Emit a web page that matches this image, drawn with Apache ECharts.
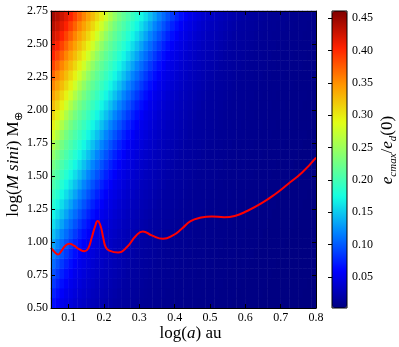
<!DOCTYPE html>
<html>
<head>
<meta charset="utf-8">
<script src="https://cdn.jsdelivr.net/npm/echarts@6/dist/echarts.min.js"></script>
<style>
  html, body { margin: 0; padding: 0; background: #fff; }
  #chart { width: 399px; height: 347px; }
</style>
</head>
<body>
<div id="chart"></div>
<script>
// centres of the colour-map cells: 60 columns of log(a), 30 rows of log(M sini)
var xCells = [];
var yCells = [];
for (var i = 0; i < 60; i++) xCells.push((0.05625 + 0.0125 * i).toFixed(5));
for (var j = 0; j < 30; j++) yCells.push((0.5375 + 0.075 * j).toFixed(4));

// e_cmax / e_d(0), one row per yCells entry (bottom to top)
var eGrid = [
  [0.065,0.057,0.051,0.047,0.043,0.039,0.036,0.033,0.030,0.028,0.026,0.024,0.022,0.020,0.018,0.017,0.016,0.015,0.014,0.013,0.012,0.011,0.011,0.010,0.010,0.009,0.009,0.008,0.008,0.008,0.007,0.007,0.007,0.006,0.006,0.006,0.006,0.005,0.005,0.005,0.005,0.004,0.004,0.004,0.004,0.004,0.004,0.003,0.003,0.003,0.003,0.003,0.003,0.003,0.003,0.003,0.002,0.002,0.002,0.002],
  [0.074,0.065,0.057,0.051,0.047,0.043,0.039,0.036,0.033,0.030,0.028,0.026,0.024,0.022,0.020,0.018,0.017,0.016,0.015,0.014,0.013,0.012,0.011,0.011,0.010,0.010,0.009,0.009,0.008,0.008,0.008,0.007,0.007,0.007,0.006,0.006,0.006,0.006,0.005,0.005,0.005,0.005,0.004,0.004,0.004,0.004,0.004,0.004,0.003,0.003,0.003,0.003,0.003,0.003,0.003,0.003,0.003,0.002,0.002,0.002],
  [0.085,0.074,0.065,0.057,0.051,0.047,0.043,0.039,0.036,0.033,0.030,0.028,0.026,0.024,0.022,0.020,0.018,0.017,0.016,0.015,0.014,0.013,0.012,0.011,0.011,0.010,0.010,0.009,0.009,0.008,0.008,0.008,0.007,0.007,0.007,0.006,0.006,0.006,0.006,0.005,0.005,0.005,0.005,0.004,0.004,0.004,0.004,0.004,0.004,0.003,0.003,0.003,0.003,0.003,0.003,0.003,0.003,0.003,0.002,0.002],
  [0.096,0.085,0.074,0.065,0.057,0.051,0.047,0.043,0.039,0.036,0.033,0.030,0.028,0.026,0.024,0.022,0.020,0.018,0.017,0.016,0.015,0.014,0.013,0.012,0.011,0.011,0.010,0.010,0.009,0.009,0.008,0.008,0.008,0.007,0.007,0.007,0.006,0.006,0.006,0.006,0.005,0.005,0.005,0.005,0.004,0.004,0.004,0.004,0.004,0.004,0.003,0.003,0.003,0.003,0.003,0.003,0.003,0.003,0.003,0.002],
  [0.108,0.096,0.085,0.074,0.065,0.057,0.051,0.047,0.043,0.039,0.036,0.033,0.030,0.028,0.026,0.024,0.022,0.020,0.018,0.017,0.016,0.015,0.014,0.013,0.012,0.011,0.011,0.010,0.010,0.009,0.009,0.008,0.008,0.008,0.007,0.007,0.007,0.006,0.006,0.006,0.006,0.005,0.005,0.005,0.005,0.004,0.004,0.004,0.004,0.004,0.004,0.003,0.003,0.003,0.003,0.003,0.003,0.003,0.003,0.003],
  [0.119,0.108,0.096,0.085,0.074,0.065,0.057,0.051,0.047,0.043,0.039,0.036,0.033,0.030,0.028,0.026,0.024,0.022,0.020,0.018,0.017,0.016,0.015,0.014,0.013,0.012,0.011,0.011,0.010,0.010,0.009,0.009,0.008,0.008,0.008,0.007,0.007,0.007,0.006,0.006,0.006,0.006,0.005,0.005,0.005,0.005,0.004,0.004,0.004,0.004,0.004,0.004,0.003,0.003,0.003,0.003,0.003,0.003,0.003,0.003],
  [0.133,0.119,0.108,0.096,0.085,0.074,0.065,0.057,0.051,0.047,0.043,0.039,0.036,0.033,0.030,0.028,0.026,0.024,0.022,0.020,0.018,0.017,0.016,0.015,0.014,0.013,0.012,0.011,0.011,0.010,0.010,0.009,0.009,0.008,0.008,0.008,0.007,0.007,0.007,0.006,0.006,0.006,0.006,0.005,0.005,0.005,0.005,0.004,0.004,0.004,0.004,0.004,0.004,0.003,0.003,0.003,0.003,0.003,0.003,0.003],
  [0.146,0.133,0.119,0.108,0.096,0.085,0.074,0.065,0.057,0.051,0.047,0.043,0.039,0.036,0.033,0.030,0.028,0.026,0.024,0.022,0.020,0.018,0.017,0.016,0.015,0.014,0.013,0.012,0.011,0.011,0.010,0.010,0.009,0.009,0.008,0.008,0.008,0.007,0.007,0.007,0.006,0.006,0.006,0.006,0.005,0.005,0.005,0.005,0.004,0.004,0.004,0.004,0.004,0.004,0.003,0.003,0.003,0.003,0.003,0.003],
  [0.159,0.146,0.133,0.119,0.108,0.096,0.085,0.074,0.065,0.057,0.051,0.047,0.043,0.039,0.036,0.033,0.030,0.028,0.026,0.024,0.022,0.020,0.018,0.017,0.016,0.015,0.014,0.013,0.012,0.011,0.011,0.010,0.010,0.009,0.009,0.008,0.008,0.008,0.007,0.007,0.007,0.006,0.006,0.006,0.006,0.005,0.005,0.005,0.005,0.004,0.004,0.004,0.004,0.004,0.004,0.003,0.003,0.003,0.003,0.003],
  [0.171,0.159,0.146,0.133,0.119,0.108,0.096,0.085,0.074,0.065,0.057,0.051,0.047,0.043,0.039,0.036,0.033,0.030,0.028,0.026,0.024,0.022,0.020,0.018,0.017,0.016,0.015,0.014,0.013,0.012,0.011,0.011,0.010,0.010,0.009,0.009,0.008,0.008,0.008,0.007,0.007,0.007,0.006,0.006,0.006,0.006,0.005,0.005,0.005,0.005,0.004,0.004,0.004,0.004,0.004,0.004,0.003,0.003,0.003,0.003],
  [0.183,0.171,0.159,0.146,0.133,0.119,0.108,0.096,0.085,0.074,0.065,0.057,0.051,0.047,0.043,0.039,0.036,0.033,0.030,0.028,0.026,0.024,0.022,0.020,0.018,0.017,0.016,0.015,0.014,0.013,0.012,0.011,0.011,0.010,0.010,0.009,0.009,0.008,0.008,0.008,0.007,0.007,0.007,0.006,0.006,0.006,0.006,0.005,0.005,0.005,0.005,0.004,0.004,0.004,0.004,0.004,0.004,0.003,0.003,0.003],
  [0.194,0.183,0.171,0.159,0.146,0.133,0.119,0.108,0.096,0.085,0.074,0.065,0.057,0.051,0.047,0.043,0.039,0.036,0.033,0.030,0.028,0.026,0.024,0.022,0.020,0.018,0.017,0.016,0.015,0.014,0.013,0.012,0.011,0.011,0.010,0.010,0.009,0.009,0.008,0.008,0.008,0.007,0.007,0.007,0.006,0.006,0.006,0.006,0.005,0.005,0.005,0.005,0.004,0.004,0.004,0.004,0.004,0.004,0.003,0.003],
  [0.205,0.194,0.183,0.171,0.159,0.146,0.133,0.119,0.108,0.096,0.085,0.074,0.065,0.057,0.051,0.047,0.043,0.039,0.036,0.033,0.030,0.028,0.026,0.024,0.022,0.020,0.018,0.017,0.016,0.015,0.014,0.013,0.012,0.011,0.011,0.010,0.010,0.009,0.009,0.008,0.008,0.008,0.007,0.007,0.007,0.006,0.006,0.006,0.006,0.005,0.005,0.005,0.005,0.004,0.004,0.004,0.004,0.004,0.004,0.003],
  [0.216,0.205,0.194,0.183,0.171,0.159,0.146,0.133,0.119,0.108,0.096,0.085,0.074,0.065,0.057,0.051,0.047,0.043,0.039,0.036,0.033,0.030,0.028,0.026,0.024,0.022,0.020,0.018,0.017,0.016,0.015,0.014,0.013,0.012,0.011,0.011,0.010,0.010,0.009,0.009,0.008,0.008,0.008,0.007,0.007,0.007,0.006,0.006,0.006,0.006,0.005,0.005,0.005,0.005,0.004,0.004,0.004,0.004,0.004,0.004],
  [0.228,0.216,0.205,0.194,0.183,0.171,0.159,0.146,0.133,0.119,0.108,0.096,0.085,0.074,0.065,0.057,0.051,0.047,0.043,0.039,0.036,0.033,0.030,0.028,0.026,0.024,0.022,0.020,0.018,0.017,0.016,0.015,0.014,0.013,0.012,0.011,0.011,0.010,0.010,0.009,0.009,0.008,0.008,0.008,0.007,0.007,0.007,0.006,0.006,0.006,0.006,0.005,0.005,0.005,0.005,0.004,0.004,0.004,0.004,0.004],
  [0.243,0.228,0.216,0.205,0.194,0.183,0.171,0.159,0.146,0.133,0.119,0.108,0.096,0.085,0.074,0.065,0.057,0.051,0.047,0.043,0.039,0.036,0.033,0.030,0.028,0.026,0.024,0.022,0.020,0.018,0.017,0.016,0.015,0.014,0.013,0.012,0.011,0.011,0.010,0.010,0.009,0.009,0.008,0.008,0.008,0.007,0.007,0.007,0.006,0.006,0.006,0.006,0.005,0.005,0.005,0.005,0.004,0.004,0.004,0.004],
  [0.260,0.243,0.228,0.216,0.205,0.194,0.183,0.171,0.159,0.146,0.133,0.119,0.108,0.096,0.085,0.074,0.065,0.057,0.051,0.047,0.043,0.039,0.036,0.033,0.030,0.028,0.026,0.024,0.022,0.020,0.018,0.017,0.016,0.015,0.014,0.013,0.012,0.011,0.011,0.010,0.010,0.009,0.009,0.008,0.008,0.008,0.007,0.007,0.007,0.006,0.006,0.006,0.006,0.005,0.005,0.005,0.005,0.004,0.004,0.004],
  [0.278,0.260,0.243,0.228,0.216,0.205,0.194,0.183,0.171,0.159,0.146,0.133,0.119,0.108,0.096,0.085,0.074,0.065,0.057,0.051,0.047,0.043,0.039,0.036,0.033,0.030,0.028,0.026,0.024,0.022,0.020,0.018,0.017,0.016,0.015,0.014,0.013,0.012,0.011,0.011,0.010,0.010,0.009,0.009,0.008,0.008,0.008,0.007,0.007,0.007,0.006,0.006,0.006,0.006,0.005,0.005,0.005,0.005,0.004,0.004],
  [0.296,0.278,0.260,0.243,0.228,0.216,0.205,0.194,0.183,0.171,0.159,0.146,0.133,0.119,0.108,0.096,0.085,0.074,0.065,0.057,0.051,0.047,0.043,0.039,0.036,0.033,0.030,0.028,0.026,0.024,0.022,0.020,0.018,0.017,0.016,0.015,0.014,0.013,0.012,0.011,0.011,0.010,0.010,0.009,0.009,0.008,0.008,0.008,0.007,0.007,0.007,0.006,0.006,0.006,0.006,0.005,0.005,0.005,0.005,0.004],
  [0.311,0.296,0.278,0.260,0.243,0.228,0.216,0.205,0.194,0.183,0.171,0.159,0.146,0.133,0.119,0.108,0.096,0.085,0.074,0.065,0.057,0.051,0.047,0.043,0.039,0.036,0.033,0.030,0.028,0.026,0.024,0.022,0.020,0.018,0.017,0.016,0.015,0.014,0.013,0.012,0.011,0.011,0.010,0.010,0.009,0.009,0.008,0.008,0.008,0.007,0.007,0.007,0.006,0.006,0.006,0.006,0.005,0.005,0.005,0.005],
  [0.326,0.311,0.296,0.278,0.260,0.243,0.228,0.216,0.205,0.194,0.183,0.171,0.159,0.146,0.133,0.119,0.108,0.096,0.085,0.074,0.065,0.057,0.051,0.047,0.043,0.039,0.036,0.033,0.030,0.028,0.026,0.024,0.022,0.020,0.018,0.017,0.016,0.015,0.014,0.013,0.012,0.011,0.011,0.010,0.010,0.009,0.009,0.008,0.008,0.008,0.007,0.007,0.007,0.006,0.006,0.006,0.006,0.005,0.005,0.005],
  [0.340,0.326,0.311,0.296,0.278,0.260,0.243,0.228,0.216,0.205,0.194,0.183,0.171,0.159,0.146,0.133,0.119,0.108,0.096,0.085,0.074,0.065,0.057,0.051,0.047,0.043,0.039,0.036,0.033,0.030,0.028,0.026,0.024,0.022,0.020,0.018,0.017,0.016,0.015,0.014,0.013,0.012,0.011,0.011,0.010,0.010,0.009,0.009,0.008,0.008,0.008,0.007,0.007,0.007,0.006,0.006,0.006,0.006,0.005,0.005],
  [0.355,0.340,0.326,0.311,0.296,0.278,0.260,0.243,0.228,0.216,0.205,0.194,0.183,0.171,0.159,0.146,0.133,0.119,0.108,0.096,0.085,0.074,0.065,0.057,0.051,0.047,0.043,0.039,0.036,0.033,0.030,0.028,0.026,0.024,0.022,0.020,0.018,0.017,0.016,0.015,0.014,0.013,0.012,0.011,0.011,0.010,0.010,0.009,0.009,0.008,0.008,0.008,0.007,0.007,0.007,0.006,0.006,0.006,0.006,0.005],
  [0.372,0.355,0.340,0.326,0.311,0.296,0.278,0.260,0.243,0.228,0.216,0.205,0.194,0.183,0.171,0.159,0.146,0.133,0.119,0.108,0.096,0.085,0.074,0.065,0.057,0.051,0.047,0.043,0.039,0.036,0.033,0.030,0.028,0.026,0.024,0.022,0.020,0.018,0.017,0.016,0.015,0.014,0.013,0.012,0.011,0.011,0.010,0.010,0.009,0.009,0.008,0.008,0.008,0.007,0.007,0.007,0.006,0.006,0.006,0.006],
  [0.388,0.372,0.355,0.340,0.326,0.311,0.296,0.278,0.260,0.243,0.228,0.216,0.205,0.194,0.183,0.171,0.159,0.146,0.133,0.119,0.108,0.096,0.085,0.074,0.065,0.057,0.051,0.047,0.043,0.039,0.036,0.033,0.030,0.028,0.026,0.024,0.022,0.020,0.018,0.017,0.016,0.015,0.014,0.013,0.012,0.011,0.011,0.010,0.010,0.009,0.009,0.008,0.008,0.008,0.007,0.007,0.007,0.006,0.006,0.006],
  [0.404,0.388,0.372,0.355,0.340,0.326,0.311,0.296,0.278,0.260,0.243,0.228,0.216,0.205,0.194,0.183,0.171,0.159,0.146,0.133,0.119,0.108,0.096,0.085,0.074,0.065,0.057,0.051,0.047,0.043,0.039,0.036,0.033,0.030,0.028,0.026,0.024,0.022,0.020,0.018,0.017,0.016,0.015,0.014,0.013,0.012,0.011,0.011,0.010,0.010,0.009,0.009,0.008,0.008,0.008,0.007,0.007,0.007,0.006,0.006],
  [0.416,0.404,0.388,0.372,0.355,0.340,0.326,0.311,0.296,0.278,0.260,0.243,0.228,0.216,0.205,0.194,0.183,0.171,0.159,0.146,0.133,0.119,0.108,0.096,0.085,0.074,0.065,0.057,0.051,0.047,0.043,0.039,0.036,0.033,0.030,0.028,0.026,0.024,0.022,0.020,0.018,0.017,0.016,0.015,0.014,0.013,0.012,0.011,0.011,0.010,0.010,0.009,0.009,0.008,0.008,0.008,0.007,0.007,0.007,0.006],
  [0.426,0.416,0.404,0.388,0.372,0.355,0.340,0.326,0.311,0.296,0.278,0.260,0.243,0.228,0.216,0.205,0.194,0.183,0.171,0.159,0.146,0.133,0.119,0.108,0.096,0.085,0.074,0.065,0.057,0.051,0.047,0.043,0.039,0.036,0.033,0.030,0.028,0.026,0.024,0.022,0.020,0.018,0.017,0.016,0.015,0.014,0.013,0.012,0.011,0.011,0.010,0.010,0.009,0.009,0.008,0.008,0.008,0.007,0.007,0.007],
  [0.436,0.426,0.416,0.404,0.388,0.372,0.355,0.340,0.326,0.311,0.296,0.278,0.260,0.243,0.228,0.216,0.205,0.194,0.183,0.171,0.159,0.146,0.133,0.119,0.108,0.096,0.085,0.074,0.065,0.057,0.051,0.047,0.043,0.039,0.036,0.033,0.030,0.028,0.026,0.024,0.022,0.020,0.018,0.017,0.016,0.015,0.014,0.013,0.012,0.011,0.011,0.010,0.010,0.009,0.009,0.008,0.008,0.008,0.007,0.007],
  [0.445,0.436,0.426,0.416,0.404,0.388,0.372,0.355,0.340,0.326,0.311,0.296,0.278,0.260,0.243,0.228,0.216,0.205,0.194,0.183,0.171,0.159,0.146,0.133,0.119,0.108,0.096,0.085,0.074,0.065,0.057,0.051,0.047,0.043,0.039,0.036,0.033,0.030,0.028,0.026,0.024,0.022,0.020,0.018,0.017,0.016,0.015,0.014,0.013,0.012,0.011,0.011,0.010,0.010,0.009,0.009,0.008,0.008,0.008,0.007]
];

// red curve
var curveA = [0.050, 0.060, 0.070, 0.080, 0.090, 0.102, 0.115, 0.130, 0.145, 0.155,
  0.165, 0.175, 0.182, 0.190, 0.198, 0.205, 0.215, 0.240, 0.265, 0.290,
  0.310, 0.335, 0.367, 0.395, 0.420, 0.445, 0.475, 0.505, 0.540, 0.570,
  0.605, 0.645, 0.685, 0.720, 0.760, 0.800];
var curveM = [0.955, 0.925, 0.905, 0.935, 0.970, 0.987, 0.972, 0.945, 0.930, 0.950,
  1.030, 1.120, 1.160, 1.125, 1.030, 0.960, 0.935, 0.920, 0.962, 1.045,
  1.080, 1.050, 1.025, 1.050, 1.100, 1.158, 1.185, 1.194, 1.187, 1.197,
  1.235, 1.292, 1.364, 1.438, 1.525, 1.640];

var xTicks = [0.1, 0.2, 0.3, 0.4, 0.5, 0.6, 0.7, 0.8];
var cbTicks = [0.05, 0.10, 0.15, 0.20, 0.25, 0.30, 0.35, 0.40, 0.45];

var jet = ['#000080', '#0000ff', '#0080ff', '#15ffe2', '#7bff7b', '#e2ff15', '#ff9700', '#ff2100', '#800000'];
var font = 'Liberation Serif';

var heat = [];
for (var r = 0; r < yCells.length; r++) {
  for (var c = 0; c < xCells.length; c++) {
    heat.push([c, r, eGrid[r][c]]);
  }
}
var curve = curveA.map(function (a, i) { return [a, curveM[i]]; });

var myChart = echarts.init(document.getElementById('chart'));

var tickStyle = { inside: true, length: 4, lineStyle: { color: '#000', width: 1 } };
var lineStyle = { show: true, lineStyle: { color: '#000', width: 1 } };
var labelStyle = { color: '#000', fontFamily: font, fontSize: 12 };

var option = {
  animation: false,
  grid: [
    { left: 51, top: 11, width: 265, height: 297, outerBoundsMode: 'none' },
    { left: 332, top: 11, width: 15, height: 297, outerBoundsMode: 'none', show: true, z: 10,
      borderColor: '#000', borderWidth: 1, backgroundColor: 'rgba(0,0,0,0)' }
  ],
  xAxis: [
    {
      type: 'value', gridIndex: 0, position: 'bottom', min: 0.05, max: 0.8, z: 10,
      axisLine: lineStyle,
      axisTick: Object.assign({ customValues: xTicks }, tickStyle),
      axisLabel: Object.assign({ customValues: xTicks, margin: 4,
        formatter: function (v) { return v.toFixed(1); } }, labelStyle),
      splitLine: { show: false },
      name: '{n|log(}{i|a}{n|) au}',
      nameLocation: 'middle', nameGap: 17, nameMoveOverlap: false,
      nameTextStyle: { padding: [0, 0, 0, 14], rich: {
        n: { fontFamily: font, fontSize: 17, color: '#000' },
        i: { fontFamily: font, fontSize: 17, fontStyle: 'italic', color: '#000' }
      } }
    },
    {
      type: 'value', gridIndex: 0, position: 'top', min: 0.05, max: 0.8, z: 10,
      axisLine: lineStyle,
      axisTick: Object.assign({ customValues: xTicks }, tickStyle),
      axisLabel: { show: false }, splitLine: { show: false }
    },
    { type: 'category', gridIndex: 0, data: xCells, show: false, boundaryGap: true },
    { type: 'value', gridIndex: 1, show: false }
  ],
  yAxis: [
    {
      type: 'value', gridIndex: 0, position: 'left', min: 0.5, max: 2.75, interval: 0.25, z: 10,
      axisLine: lineStyle, axisTick: tickStyle,
      axisLabel: Object.assign({ margin: 3,
        formatter: function (v) { return v.toFixed(2); } }, labelStyle),
      splitLine: { show: false },
      name: '{n|log(}{i|M sini}{n|) M}{s|⊕}',
      nameLocation: 'middle', nameRotate: 90, nameGap: 26, nameMoveOverlap: false,
      nameTextStyle: { padding: [0, 10, 0, 0], rich: {
        n: { fontFamily: font, fontSize: 17, color: '#000', lineHeight: 22 },
        i: { fontFamily: font, fontSize: 17, fontStyle: 'italic', color: '#000', lineHeight: 22 },
        s: { fontFamily: font, fontSize: 11, color: '#000', verticalAlign: 'bottom', lineHeight: 22 }
      } }
    },
    {
      type: 'value', gridIndex: 0, position: 'right', min: 0.5, max: 2.75, interval: 0.25, z: 10,
      axisLine: lineStyle, axisTick: tickStyle,
      axisLabel: { show: false }, splitLine: { show: false }
    },
    { type: 'category', gridIndex: 0, data: yCells, show: false, boundaryGap: true },
    {
      type: 'value', gridIndex: 1, position: 'right', min: 0.002, max: 0.461, z: 10,
      axisLine: { show: false },
      axisTick: Object.assign({ customValues: cbTicks }, tickStyle),
      axisLabel: Object.assign({ customValues: cbTicks, margin: 5,
        formatter: function (v) { return v.toFixed(2); } }, labelStyle),
      splitLine: { show: false },
      name: '{i|e}{s|cmax}{n|/}{i|e}{s|d}{n|(0)}',
      nameLocation: 'middle', nameRotate: 90, nameGap: 30, nameMoveOverlap: false,
      nameTextStyle: { padding: [0, 0, 0, 19], rich: {
        n: { fontFamily: font, fontSize: 17, color: '#000', lineHeight: 22 },
        i: { fontFamily: font, fontSize: 17, fontStyle: 'italic', color: '#000', lineHeight: 22 },
        s: { fontFamily: font, fontSize: 11, fontStyle: 'italic', color: '#000', verticalAlign: 'bottom', lineHeight: 22 }
      } }
    }
  ],
  visualMap: {
    type: 'continuous', seriesIndex: 0, min: 0.002, max: 0.461,
    orient: 'vertical', left: 332, top: 11, itemWidth: 15, itemHeight: 297,
    padding: 0, calculable: false, hoverLink: false, showLabel: false,
    inRange: { color: jet }
  },
  series: [
    {
      type: 'heatmap', xAxisIndex: 2, yAxisIndex: 2, data: heat,
      emphasis: { disabled: true }
    },
    {
      type: 'line', xAxisIndex: 0, yAxisIndex: 0, data: curve,
      smooth: true, symbol: 'none', z: 5,
      lineStyle: { color: '#ff0000', width: 2 }
    }
  ]
};
option && myChart.setOption(option);
</script>
</body>
</html>
